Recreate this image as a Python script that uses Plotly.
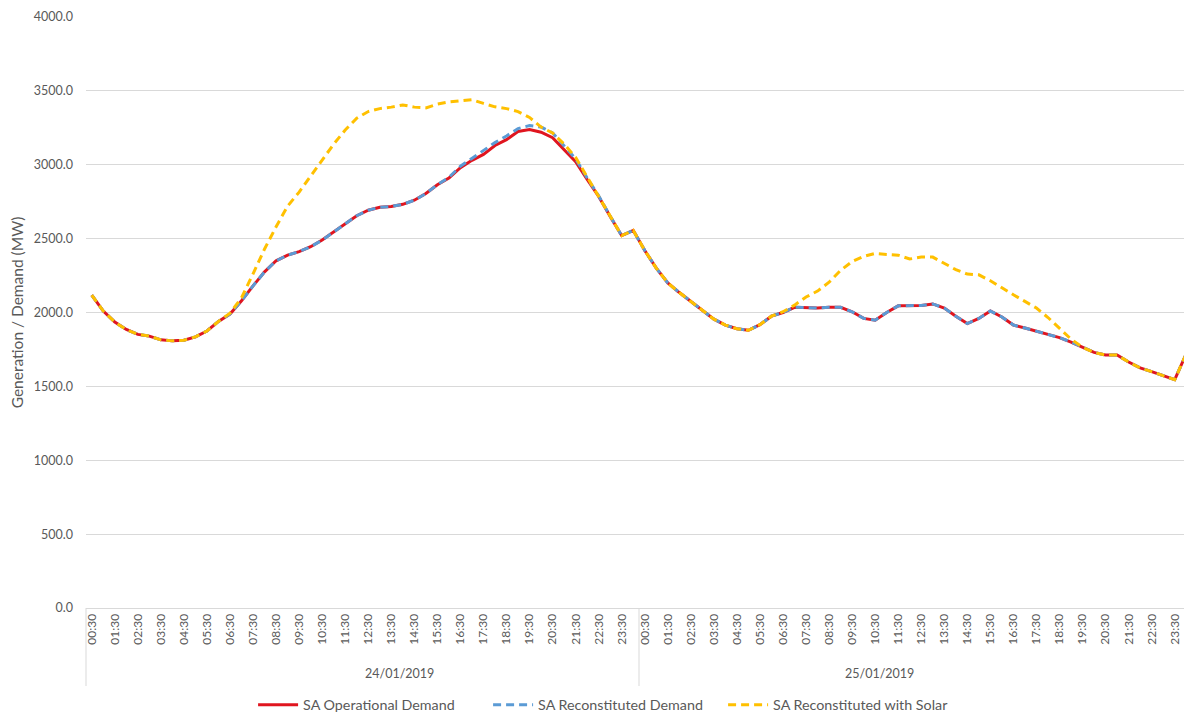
import plotly.graph_objects as go

# ---- data -------------------------------------------------------------
dates = ["24/01/2019", "25/01/2019"]
times = ["00:30", "01:00", "01:30", "02:00", "02:30", "03:00", "03:30", "04:00",
         "04:30", "05:00", "05:30", "06:00", "06:30", "07:00", "07:30", "08:00",
         "08:30", "09:00", "09:30", "10:00", "10:30", "11:00", "11:30", "12:00",
         "12:30", "13:00", "13:30", "14:00", "14:30", "15:00", "15:30", "16:00",
         "16:30", "17:00", "17:30", "18:00", "18:30", "19:00", "19:30", "20:00",
         "20:30", "21:00", "21:30", "22:00", "22:30", "23:00", "23:30", "24:00"]

operational = [
    # 24/01/2019
    2118, 2010, 1935, 1885, 1852, 1840, 1815, 1808, 1812, 1835, 1875, 1940,
    1990, 2080, 2180, 2275, 2350, 2388, 2412, 2445, 2490, 2545, 2605, 2655,
    2692, 2712, 2718, 2732, 2760, 2805, 2865, 2910, 2980, 3030, 3070, 3130,
    3170, 3225, 3238, 3220, 3183, 3100, 3020, 2900, 2785, 2650, 2520, 2556,
    # 25/01/2019
    2420, 2300, 2200, 2135, 2075, 2015, 1955, 1915, 1890, 1880, 1918, 1975,
    2000, 2035, 2030, 2030, 2035, 2035, 2005, 1960, 1948, 2000, 2045, 2045,
    2048, 2058, 2030, 1975, 1925, 1960, 2010, 1970, 1915, 1895, 1875, 1855,
    1830, 1800, 1765, 1730, 1712, 1712, 1665, 1625, 1600, 1570, 1545, 1720,
]

reconstituted = [
    2118, 2010, 1935, 1885, 1852, 1840, 1815, 1808, 1812, 1835, 1875, 1940,
    1990, 2080, 2180, 2275, 2350, 2388, 2412, 2445, 2490, 2545, 2605, 2655,
    2692, 2712, 2718, 2732, 2760, 2805, 2865, 2915, 2990, 3045, 3100, 3150,
    3195, 3245, 3265, 3255, 3215, 3130, 3040, 2910, 2790, 2652, 2520, 2556,
    2420, 2300, 2200, 2135, 2075, 2015, 1955, 1915, 1890, 1880, 1918, 1975,
    2000, 2035, 2030, 2030, 2035, 2035, 2005, 1960, 1948, 2000, 2045, 2045,
    2048, 2058, 2030, 1975, 1925, 1960, 2010, 1970, 1915, 1895, 1875, 1855,
    1830, 1800, 1765, 1730, 1712, 1712, 1665, 1625, 1600, 1570, 1545, 1720,
]

with_solar = [
    2118, 2010, 1935, 1885, 1852, 1840, 1815, 1808, 1812, 1835, 1875, 1940,
    1995, 2100, 2262, 2430, 2580, 2720, 2815, 2925, 3030, 3140, 3235, 3315,
    3360, 3380, 3390, 3405, 3390, 3385, 3410, 3425, 3433, 3440, 3415, 3392,
    3380, 3360, 3320, 3255, 3215, 3140, 3050, 2915, 2790, 2652, 2520, 2556,
    2420, 2300, 2200, 2135, 2075, 2015, 1955, 1915, 1890, 1880, 1918, 1975,
    2005, 2050, 2105, 2145, 2205, 2285, 2345, 2380, 2400, 2393, 2388, 2362,
    2375, 2375, 2330, 2290, 2260, 2255, 2215, 2165, 2120, 2075, 2030, 1966,
    1890, 1820, 1765, 1730, 1712, 1712, 1665, 1625, 1600, 1570, 1545, 1720,
]

y_ticks = [0, 500, 1000, 1500, 2000, 2500, 3000, 3500, 4000]

# ---- build ------------------------------------------------------------
categories = [f"{d} {t}" for d in dates for t in times]
tick_vals = categories[::2]
tick_text = [c.split(" ")[1] for c in tick_vals]

FONT = "Lato"
GREY = "#595959"
GRID = "#d9d9d9"

fig = go.Figure()
fig.add_trace(go.Scatter(x=categories, y=operational, mode="lines",
                         name="SA Operational Demand",
                         line=dict(color="#e0151f", width=3)))
fig.add_trace(go.Scatter(x=categories, y=reconstituted, mode="lines",
                         name="SA Reconstituted Demand",
                         line=dict(color="#5b9bd5", width=3, dash="8px,5px")))
fig.add_trace(go.Scatter(x=categories, y=with_solar, mode="lines",
                         name="SA Reconstituted with Solar",
                         line=dict(color="#ffc000", width=3, dash="8px,5px")))

fig.update_layout(
    width=1184, height=709,
    margin=dict(l=78, r=0, t=9, b=109),
    paper_bgcolor="white", plot_bgcolor="white",
    font=dict(family=FONT, color=GREY, size=11),
    showlegend=True,
    legend=dict(orientation="h", xref="container", yref="container",
                x=0.207, xanchor="left", y=0.017, yanchor="middle",
                font=dict(size=14.3, color=GREY, family=FONT),
                traceorder="normal", itemwidth=40,
                entrywidth=180, entrywidthmode="pixels"),
)

fig.update_xaxes(type="category", categoryorder="array", categoryarray=categories,
                 range=[-0.5, len(categories) - 0.5],
                 tickmode="array", tickvals=tick_vals, ticktext=tick_text,
                 tickangle=-90, tickfont=dict(size=12, color=GREY, family=FONT),
                 showgrid=False, showline=True, linecolor=GRID, linewidth=1,
                 ticks="", zeroline=False)

fig.update_yaxes(range=[0, 4000], tickmode="array", tickvals=y_ticks,
                 tickformat=".1f", showgrid=True, gridcolor=GRID, gridwidth=1,
                 zeroline=False, showline=False, ticks="",
                 ticklabelstandoff=12,
                 tickfont=dict(size=12.5, color=GREY, family=FONT),
                 title=dict(text="Generation / Demand (MW)",
                            font=dict(size=15.5, color=GREY, family=FONT),
                            standoff=7))

# multi-level category dividers
for xp in [0.0, 0.5, 1.0]:
    fig.add_shape(type="line", xref="paper", yref="paper",
                  x0=xp, x1=xp, y0=0, y1=-0.132,
                  line=dict(color=GRID, width=1))

for xp, d in zip([0.25, 0.75], dates):
    fig.add_annotation(xref="paper", yref="paper", x=xp, y=-0.11,
                       text=d, showarrow=False, yanchor="middle",
                       font=dict(size=12.5, color=GREY, family=FONT))

fig.write_html("out.html")
